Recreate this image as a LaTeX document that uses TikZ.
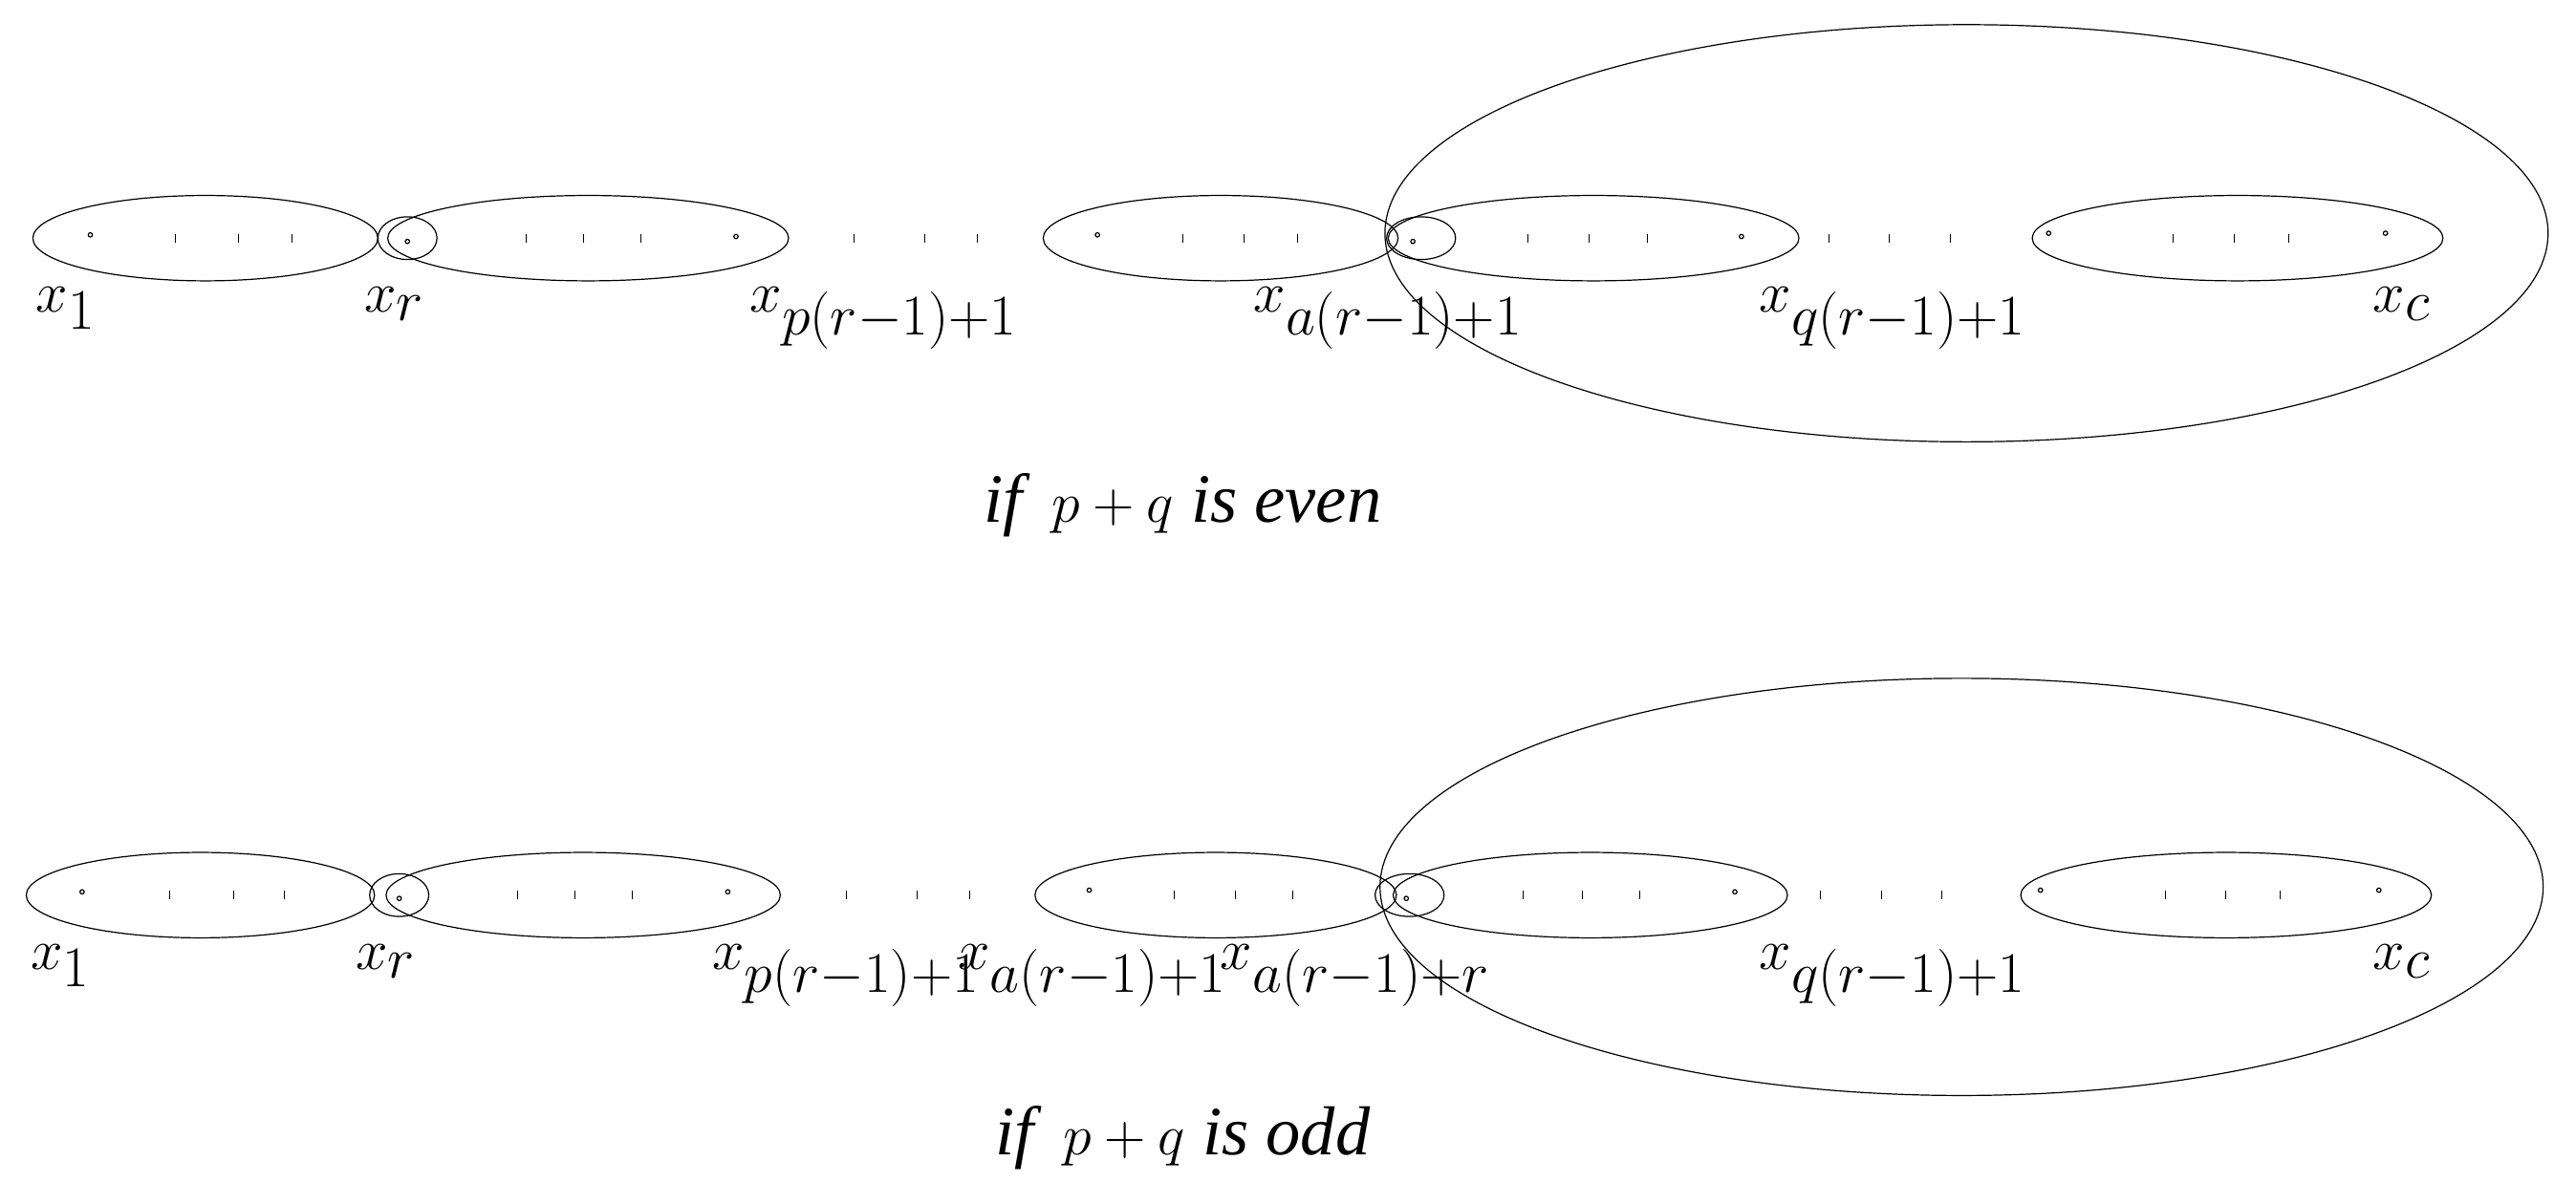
\documentclass[tikz,border=0pt]{standalone}
\usepackage{fontspec}
\setmainfont{Liberation Serif}
\begin{document}
\begin{tikzpicture}[x=0.25mm,y=-0.25mm,
  el/.style={draw,line width=0.5pt},
  lab/.style={font=\fontsize{34}{38}\selectfont,anchor=base},
  captxt/.style={font=\fontsize{30}{34}\selectfont\itshape,anchor=base}]
\useasboundingbox (0,0) rectangle (1568,720);
\newcommand{\tk}[2]{\draw[line width=0.4pt] (#1,#2-2.5) -- (#1,#2+2.5);}
\newcommand{\dt}[2]{\draw[line width=0.5pt] (#1,#2) circle (1.3);}
% top row
\draw[el] (125,145) ellipse (105 and 26);
\draw[el] (358,145) ellipse (122 and 26);
\draw[el] (248,145) ellipse (18 and 13);
\draw[el] (743,145) ellipse (108 and 26);
\draw[el] (970,145) ellipse (125 and 26);
\draw[el] (865,145) ellipse (21 and 13);
\draw[el] (1362,145) ellipse (125 and 26);
\draw[el] (1197,142) ellipse (354 and 127);
\dt{55}{143}\dt{248}{147}\dt{448}{144}\dt{668}{143}\dt{860}{147}\dt{1060}{144}\dt{1247}{142}\dt{1452}{142}
\foreach \x in {107,145,178,320,355,390,520,563,595,720,757,790,930,967,1003,1113,1150,1187,1323,1360,1393}{\tk{\x}{145}}
\node[lab] (t1) at (40,190) {$x_1$};
\node[lab] (t2) at (240,190) {$x_r$};
\node[lab] (t3) at (538,190) {$x_{p(r-1)+1}$};
\node[lab] (t4) at (845,190) {$x_{a(r-1)+1}$};
\node[lab] (t5) at (1152,190) {$x_{q(r-1)+1}$};
\node[lab] (t6) at (1462,190) {$x_c$};
\node[captxt] (c1) at (720,318) {if\, $p+q$ is even};
% bottom row
\draw[el] (122,545) ellipse (106 and 26);
\draw[el] (355,545) ellipse (120 and 26);
\draw[el] (243,545) ellipse (18 and 13);
\draw[el] (740,545) ellipse (110 and 26);
\draw[el] (968,545) ellipse (120 and 26);
\draw[el] (858,545) ellipse (21 and 13);
\draw[el] (1355,545) ellipse (125 and 26);
\draw[el] (1194,540) ellipse (354 and 127);
\dt{50}{543}\dt{243}{547}\dt{443}{543}\dt{663}{542}\dt{856}{547}\dt{1056}{543}\dt{1242}{542}\dt{1448}{542}
\foreach \x in {103,142,173,315,350,385,515,558,590,715,752,787,927,963,998,1108,1145,1182,1318,1355,1388}{\tk{\x}{545}}
\node[lab] (b1) at (37,590) {$x_1$};
\node[lab] (b2) at (235,590) {$x_r$};
\node[lab] (b3) at (515,590) {$x_{p(r-1)+1}$};
\node[lab] (b4) at (665,590) {$x_{a(r-1)+1}$};
\node[lab] (b5) at (825,590) {$x_{a(r-1)+r}$};
\node[lab] (b6) at (1152,590) {$x_{q(r-1)+1}$};
\node[lab] (b7) at (1462,590) {$x_c$};
\node[captxt] (c2) at (720,703) {if\, $p+q$ is odd};
\end{tikzpicture}
\end{document}
